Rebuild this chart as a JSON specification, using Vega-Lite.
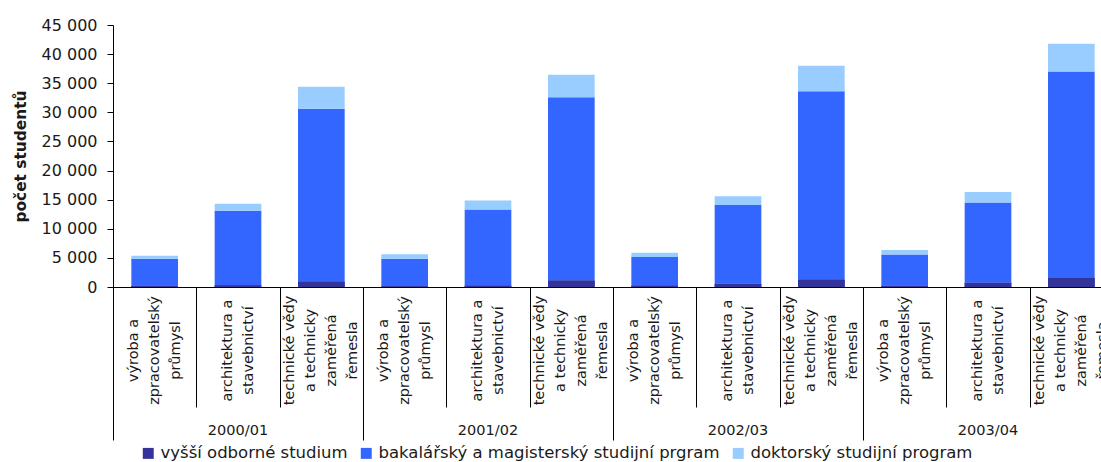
{
  "$schema": "https://vega.github.io/schema/vega-lite/v6.json",
  "width": 988,
  "height": 262,
  "autosize": {"type": "none"},
  "padding": {"left": 113, "top": 25, "right": 0, "bottom": 175},
  "background": "white",
  "config": {
    "font": "DejaVu Sans",
    "view": {"stroke": null},
    "axis": {"domainColor": "#000000", "tickColor": "#000000", "labelColor": "#1a1a1a", "titleColor": "#1a1a1a"}
  },
  "data": {
    "values": [
      {"rok": "2000/01", "obor": "výroba a|zpracovatelský|průmysl", "stupen": "vyšší odborné studium", "studenti": 200},
      {"rok": "2000/01", "obor": "výroba a|zpracovatelský|průmysl", "stupen": "bakalářský a magisterský studijní prgram", "studenti": 4650},
      {"rok": "2000/01", "obor": "výroba a|zpracovatelský|průmysl", "stupen": "doktorský studijní program", "studenti": 500},
      {"rok": "2000/01", "obor": "architektura a|stavebnictví", "stupen": "vyšší odborné studium", "studenti": 300},
      {"rok": "2000/01", "obor": "architektura a|stavebnictví", "stupen": "bakalářský a magisterský studijní prgram", "studenti": 12800},
      {"rok": "2000/01", "obor": "architektura a|stavebnictví", "stupen": "doktorský studijní program", "studenti": 1200},
      {"rok": "2000/01", "obor": "technické vědy|a technicky|zaměřená|řemesla", "stupen": "vyšší odborné studium", "studenti": 950},
      {"rok": "2000/01", "obor": "technické vědy|a technicky|zaměřená|řemesla", "stupen": "bakalářský a magisterský studijní prgram", "studenti": 29650},
      {"rok": "2000/01", "obor": "technické vědy|a technicky|zaměřená|řemesla", "stupen": "doktorský studijní program", "studenti": 3800},
      {"rok": "2001/02", "obor": "výroba a|zpracovatelský|průmysl", "stupen": "vyšší odborné studium", "studenti": 150},
      {"rok": "2001/02", "obor": "výroba a|zpracovatelský|průmysl", "stupen": "bakalářský a magisterský studijní prgram", "studenti": 4700},
      {"rok": "2001/02", "obor": "výroba a|zpracovatelský|průmysl", "stupen": "doktorský studijní program", "studenti": 780},
      {"rok": "2001/02", "obor": "architektura a|stavebnictví", "stupen": "vyšší odborné studium", "studenti": 250},
      {"rok": "2001/02", "obor": "architektura a|stavebnictví", "stupen": "bakalářský a magisterský studijní prgram", "studenti": 13050},
      {"rok": "2001/02", "obor": "architektura a|stavebnictví", "stupen": "doktorský studijní program", "studenti": 1540},
      {"rok": "2001/02", "obor": "technické vědy|a technicky|zaměřená|řemesla", "stupen": "vyšší odborné studium", "studenti": 1100},
      {"rok": "2001/02", "obor": "technické vědy|a technicky|zaměřená|řemesla", "stupen": "bakalářský a magisterský studijní prgram", "studenti": 31500},
      {"rok": "2001/02", "obor": "technické vědy|a technicky|zaměřená|řemesla", "stupen": "doktorský studijní program", "studenti": 3850},
      {"rok": "2002/03", "obor": "výroba a|zpracovatelský|průmysl", "stupen": "vyšší odborné studium", "studenti": 250},
      {"rok": "2002/03", "obor": "výroba a|zpracovatelský|průmysl", "stupen": "bakalářský a magisterský studijní prgram", "studenti": 4900},
      {"rok": "2002/03", "obor": "výroba a|zpracovatelský|průmysl", "stupen": "doktorský studijní program", "studenti": 750},
      {"rok": "2002/03", "obor": "architektura a|stavebnictví", "stupen": "vyšší odborné studium", "studenti": 550},
      {"rok": "2002/03", "obor": "architektura a|stavebnictví", "stupen": "bakalářský a magisterský studijní prgram", "studenti": 13550},
      {"rok": "2002/03", "obor": "architektura a|stavebnictví", "stupen": "doktorský studijní program", "studenti": 1500},
      {"rok": "2002/03", "obor": "technické vědy|a technicky|zaměřená|řemesla", "stupen": "vyšší odborné studium", "studenti": 1270},
      {"rok": "2002/03", "obor": "technické vědy|a technicky|zaměřená|řemesla", "stupen": "bakalářský a magisterský studijní prgram", "studenti": 32330},
      {"rok": "2002/03", "obor": "technické vědy|a technicky|zaměřená|řemesla", "stupen": "doktorský studijní program", "studenti": 4400},
      {"rok": "2003/04", "obor": "výroba a|zpracovatelský|průmysl", "stupen": "vyšší odborné studium", "studenti": 200},
      {"rok": "2003/04", "obor": "výroba a|zpracovatelský|průmysl", "stupen": "bakalářský a magisterský studijní prgram", "studenti": 5400},
      {"rok": "2003/04", "obor": "výroba a|zpracovatelský|průmysl", "stupen": "doktorský studijní program", "studenti": 750},
      {"rok": "2003/04", "obor": "architektura a|stavebnictví", "stupen": "vyšší odborné studium", "studenti": 750},
      {"rok": "2003/04", "obor": "architektura a|stavebnictví", "stupen": "bakalářský a magisterský studijní prgram", "studenti": 13750},
      {"rok": "2003/04", "obor": "architektura a|stavebnictví", "stupen": "doktorský studijní program", "studenti": 1800},
      {"rok": "2003/04", "obor": "technické vědy|a technicky|zaměřená|řemesla", "stupen": "vyšší odborné studium", "studenti": 1550},
      {"rok": "2003/04", "obor": "technické vědy|a technicky|zaměřená|řemesla", "stupen": "bakalářský a magisterský studijní prgram", "studenti": 35450},
      {"rok": "2003/04", "obor": "technické vědy|a technicky|zaměřená|řemesla", "stupen": "doktorský studijní program", "studenti": 4800}
    ]
  },
  "transform": [
    {"calculate": "datum.rok + '|' + datum.obor", "as": "sloupec"},
    {"calculate": "indexof(['vyšší odborné studium', 'bakalářský a magisterský studijní prgram', 'doktorský studijní program'], datum.stupen)", "as": "poradi"}
  ],
  "encoding": {
    "y": {
      "field": "studenti",
      "type": "quantitative",
      "stack": "zero",
      "scale": {"domain": [0, 45000], "nice": false},
      "axis": {
        "title": "počet studentů",
        "titleFontSize": 15.4,
        "titleFontWeight": "bold",
        "titlePadding": 13,
        "values": [0, 5000, 10000, 15000, 20000, 25000, 30000, 35000, 40000, 45000],
        "labelExpr": "replace(format(datum.value, ','), ',', ' ')",
        "labelFontSize": 16,
        "labelPadding": 10,
        "tickSize": 6,
        "grid": false
      }
    },
    "color": {
      "field": "stupen",
      "type": "nominal",
      "scale": {
        "domain": ["vyšší odborné studium", "bakalářský a magisterský studijní prgram", "doktorský studijní program"],
        "range": ["#333399", "#3366ff", "#99ccff"]
      },
      "legend": {
        "orient": "none",
        "legendX": 27,
        "legendY": 420,
        "direction": "horizontal",
        "title": null,
        "padding": 0,
        "symbolType": "square",
        "symbolSize": 120,
        "symbolStrokeWidth": 0,
        "labelFontSize": 16.5,
        "labelColor": "#1a1a1a",
        "labelOffset": 4,
        "labelLimit": 1000,
        "columnPadding": 10
      }
    },
    "order": {"field": "poradi", "type": "quantitative"}
  },
  "layer": [
    {
      "mark": {"type": "bar", "width": {"band": 0.56}},
      "encoding": {
        "x": {
          "field": "sloupec",
          "type": "nominal",
          "sort": null,
          "scale": {"range": [0, 1000], "paddingInner": 0, "paddingOuter": 0},
          "axis": {
            "title": null,
            "orient": "bottom",
            "labelExpr": "length(split(datum.value, '|')) == 5 ? [split(datum.value, '|')[1], '\u200b', split(datum.value, '|')[2], '\u200b', split(datum.value, '|')[3], '\u200b', split(datum.value, '|')[4]] : length(split(datum.value, '|')) == 4 ? ['\u200b', split(datum.value, '|')[1], '\u200b', split(datum.value, '|')[2], '\u200b', split(datum.value, '|')[3]] : ['\u200b', '\u200b', split(datum.value, '|')[1], '\u200b', split(datum.value, '|')[2]]",
            "labelAngle": -90,
            "labelAlign": "center",
            "labelBaseline": "middle",
            "labelPadding": -57,
            "labelOffset": -31.5,
            "labelFontSize": 14.5,
            "labelLineHeight": 10.5,
            "labelOverlap": false,
            "tickBand": "extent",
            "tickSize": 120
          }
        }
      }
    },
    {
      "transform": [{"filter": "datum.stupen === 'vyšší odborné studium'"}],
      "mark": {"type": "bar", "width": {"band": 0.56}},
      "encoding": {
        "x": {
          "field": "sloupec",
          "type": "nominal",
          "sort": null,
          "scale": {"range": [0, 1000], "paddingInner": 0, "paddingOuter": 0},
          "axis": {
            "title": null,
            "orient": "bottom",
            "domain": false,
            "values": [
              "2000/01|výroba a|zpracovatelský|průmysl",
              "2001/02|výroba a|zpracovatelský|průmysl",
              "2002/03|výroba a|zpracovatelský|průmysl",
              "2003/04|výroba a|zpracovatelský|průmysl"
            ],
            "labelExpr": "split(datum.value, '|')[0]",
            "labelAngle": 0,
            "labelAlign": "center",
            "labelBaseline": "middle",
            "labelOffset": 83.333,
            "labelPadding": -10,
            "labelFontSize": 14.5,
            "labelOverlap": false,
            "bandPosition": 0,
            "tickSize": 153
          }
        }
      }
    }
  ],
  "resolve": {"axis": {"x": "independent"}}
}
